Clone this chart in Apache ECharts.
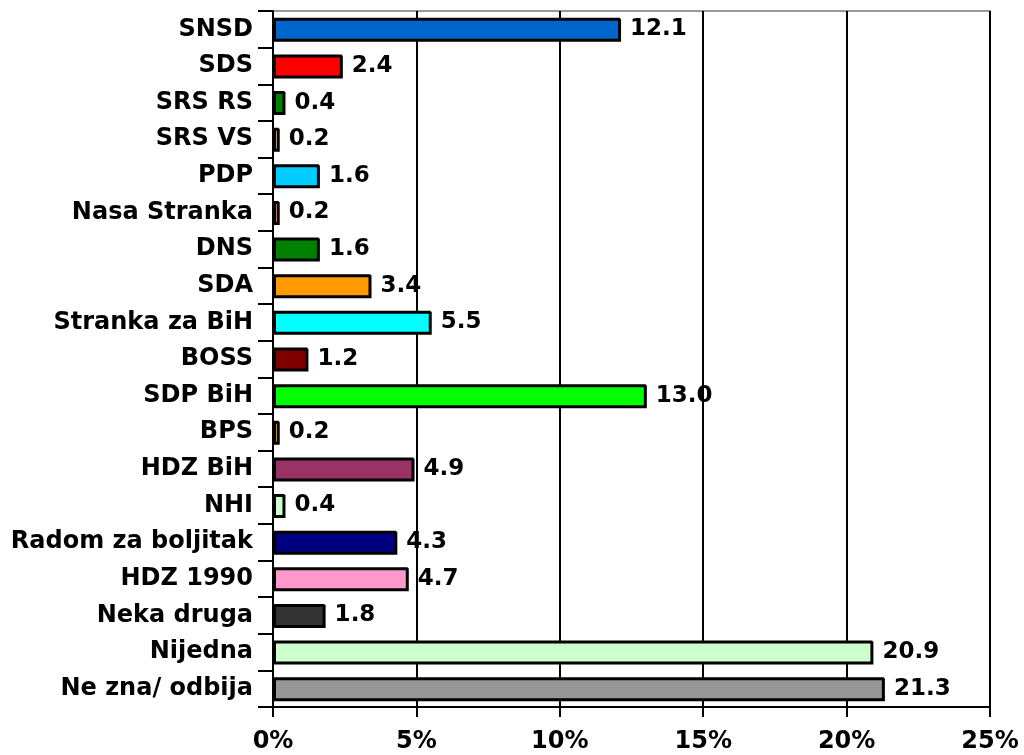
<!DOCTYPE html>
<html>
<head>
<meta charset="utf-8">
<script src="https://cdn.jsdelivr.net/npm/echarts@6/dist/echarts.min.js"></script>
<style>
  html, body { margin: 0; padding: 0; background: #fff; }
  #chart { width: 1024px; height: 755px; }
</style>
</head>
<body>
<div id="chart"></div>
<script>
const categories = ['SNSD', 'SDS', 'SRS RS', 'SRS VS', 'PDP', 'Nasa Stranka', 'DNS', 'SDA',
  'Stranka za BiH', 'BOSS', 'SDP BiH', 'BPS', 'HDZ BiH', 'NHI', 'Radom za boljitak',
  'HDZ 1990', 'Neka druga', 'Nijedna', 'Ne zna/ odbija'];
const values = [12.1, 2.4, 0.4, 0.2, 1.6, 0.2, 1.6, 3.4, 5.5, 1.2, 13.0, 0.2, 4.9, 0.4, 4.3, 4.7, 1.8, 20.9, 21.3];
const colors = ['#0066cc', '#ff0000', '#008000', '#ffcc99', '#00ccff', '#ff9999', '#008000', '#ff9900',
  '#00ffff', '#800000', '#00ff00', '#ffcc00', '#993366', '#ccffcc', '#000080',
  '#ff99cc', '#333333', '#ccffcc', '#969696'];
const xTicks = [0, 5, 10, 15, 20, 25];

const font = 'Verdana, "DejaVu Sans", sans-serif';
const chart = echarts.init(document.getElementById('chart'));

chart.setOption({
  animation: false,
  grid: {
    left: 273, right: 34, top: 11, bottom: 48,
    show: true, borderColor: '#999', borderWidth: 2
  },
  xAxis: {
    type: 'value',
    min: xTicks[0],
    max: xTicks[xTicks.length - 1],
    interval: 5,
    axisLine: { show: true, lineStyle: { color: '#000', width: 2 } },
    axisTick: { show: true, length: 10, lineStyle: { color: '#000', width: 2 } },
    splitLine: { show: true, lineStyle: { color: '#000', width: 2 } },
    axisLabel: {
      formatter: '{value}%', color: '#000', fontFamily: font,
      fontWeight: 'bold', fontSize: 24, margin: 23
    }
  },
  yAxis: {
    type: 'category',
    data: categories,
    inverse: true,
    axisLine: { show: true, lineStyle: { color: '#000', width: 2 } },
    axisTick: { show: true, length: 15, lineStyle: { color: '#000', width: 2 } },
    axisLabel: {
      color: '#000', fontFamily: font, fontWeight: 'bold', fontSize: 24, margin: 20,
      padding: [6, 0, 0, 0]
    }
  },
  series: [{
    type: 'bar',
    data: values.map((v, i) => ({ value: v, itemStyle: { color: colors[i] } })),
    barWidth: 23,
    itemStyle: {
      borderColor: '#000', borderWidth: 2,
      shadowColor: '#000', shadowOffsetX: 1, shadowOffsetY: 1, shadowBlur: 0
    },
    label: {
      show: true, position: 'right', distance: 10,
      padding: [5, 0, 0, 0],
      formatter: p => p.value.toFixed(1),
      color: '#000', fontFamily: font, fontWeight: 'bold', fontSize: 23
    }
  }]
});
</script>
</body>
</html>
